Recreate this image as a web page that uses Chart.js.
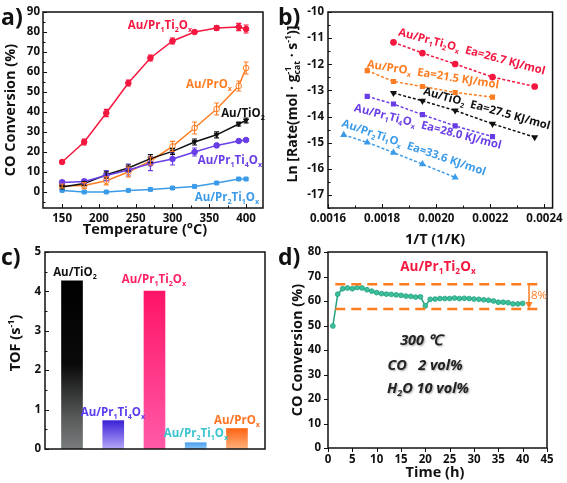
<!DOCTYPE html>
<html>
<head>
<meta charset="utf-8">
<script src="https://cdn.jsdelivr.net/npm/chart.js@4.4.1/dist/chart.umd.min.js"></script>
<style>
  body { margin: 0; background: #fff; }
  #wrap { position: relative; width: 567px; height: 483px; overflow: hidden; background: #fff; }
  #wrap canvas { position: absolute; left: 0; top: 0; }
</style>
</head>
<body>
<div id="wrap">
  <canvas id="chartA" width="567" height="483"></canvas>
  <canvas id="chartB" width="567" height="483"></canvas>
  <canvas id="chartC" width="567" height="483"></canvas>
  <canvas id="chartD" width="567" height="483"></canvas>
</div>
<script>
// ---- a) CO conversion vs temperature ----
const tempC = [150, 180, 210, 240, 270, 300, 330, 360, 390, 400];
const convPr1Ti2 = [15, 25, 39.5, 54.5, 67, 75.5, 80, 82, 82.5, 81.5];
const errPr1Ti2 = [0.6, 1.5, 1.8, 1.5, 1.5, 1.5, 0.8, 1.2, 1.8, 2];
const convPrOx = [3, 3.2, 5.6, 10, 15.5, 22.8, 32, 41.5, 53, 62];
const errPrOx = [1, 1.5, 2, 2.5, 2, 2.5, 3, 3, 2.5, 3];
const convTiO2 = [2.5, 4.2, 8.6, 12, 16.7, 20.3, 25, 28.6, 34, 35.8];
const errTiO2 = [1, 1, 1.5, 1.5, 2, 1.5, 1.5, 1.5, 1, 1.2];
const convPr1Ti4 = [4.8, 5.3, 8.2, 11, 14.2, 16.5, 20, 23.3, 25.5, 26];
const errPr1Ti4 = [1, 1, 2.5, 3, 3.5, 3, 2, 0.8, 0.6, 0.6];
const convPr2Ti1 = [0.8, 0, 0, 0.8, 1.3, 2, 2.8, 4.5, 6.5, 6.5];
const errPr2Ti1 = [0.4, 0.4, 0.4, 0.4, 0.4, 0.4, 0.4, 0.5, 0.6, 0.6];

// ---- b) Arrhenius plot ----
const invT_a = [0.001842, 0.001949, 0.00207, 0.002208, 0.002364];
const invT_b = [0.001745, 0.001842, 0.001949, 0.00207, 0.002208];
const invT_c = [0.001658, 0.001745, 0.001842, 0.001949, 0.00207];
const lnPr1Ti2 = [-11.16, -11.57, -11.99, -12.49, -12.85];
const lnPrOx = [-12.24, -12.66, -12.85, -13.08, -13.26];
const lnTiO2 = [-13.1, -13.4, -13.77, -14.28, -14.79];
const lnPr1Ti4 = [-13.23, -13.52, -13.93, -14.36, -14.77];
const lnPr2Ti1 = [-14.7, -14.99, -15.38, -15.82, -16.33];
const eaLabels = ['Ea=26.7 KJ/mol', 'Ea=21.5 KJ/mol', 'Ea=27.5 KJ/mol', 'Ea=28.0 KJ/mol', 'Ea=33.6 KJ/mol'];

// ---- c) TOF ----
const tofNames = ['Au/TiO_2', 'Au/Pr_1Ti_4O_x', 'Au/Pr_1Ti_2O_x', 'Au/Pr_2Ti_1O_x', 'Au/PrO_x'];
const tofPos = [1, 2, 3, 4, 5];
const tofVals = [4.27, 0.72, 4.01, 0.16, 0.52];

// ---- d) stability test ----
const timeH = [1, 2, 3, 4, 5, 6, 7, 8, 9, 10, 11, 12, 13, 14, 15, 16, 17, 18, 19, 20,
  21, 22, 23, 24, 25, 26, 27, 28, 29, 30, 31, 32, 33, 34, 35, 36, 37, 38, 39, 40];
const convTime = [49.8, 62.8, 65, 65.3, 65, 65.5, 65.3, 64.6, 64, 63.4, 63, 62.8, 62.7, 62.5, 62.3,
  62, 61.9, 61.6, 61.7, 58, 60.7, 60.8, 61, 61, 61, 61.2, 61, 61.1, 61, 60.8,
  60.7, 60.5, 60.3, 60, 59.5, 59.5, 59.3, 58.8, 58.8, 59];
const bandHigh = 66.8;
const bandLow = 56.7;
const bandFrom = 1.5;
const bandTo = 43;
const bandArrowX = 41.3;

const FAM = "'Open Sans', sans-serif";
Chart.defaults.font.family = FAM;
Chart.defaults.font.weight = 'bold';
Chart.defaults.font.size = 11.5;
Chart.defaults.color = '#111';

// text with _sub and ^sup pieces
function parseRich(str) {
  const out = [];
  let i = 0;
  while (i < str.length) {
    const c = str[i];
    if (c === '_' || c === '^') {
      let t;
      if (str[i + 1] === '{') { const j = str.indexOf('}', i); t = str.slice(i + 2, j); i = j + 1; }
      else { t = str[i + 1]; i += 2; }
      out.push({ t, k: c });
    } else {
      const last = out[out.length - 1];
      if (last && last.k === '') last.t += c; else out.push({ t: c, k: '' });
      i++;
    }
  }
  return out;
}

function richText(ctx, str, x, y, o) {
  const size = o.size || 12;
  const font = s => [o.style || '', o.weight || 'bold', s + 'px', FAM].join(' ').trim();
  const parts = parseRich(str);
  const small = size * 0.62;
  let cx = 0;
  parts.forEach((p, i) => {
    ctx.font = font(p.k ? small : size);
    p.w = ctx.measureText(p.t).width;
    const prev = parts[i - 1];
    if (p.k === '^' && prev && prev.k === '_') { p.x = prev.x; cx = Math.max(cx, p.x + p.w); }
    else { p.x = cx; cx += p.w; }
  });
  const w = cx;
  ctx.save();
  ctx.translate(x, y);
  if (o.rot) ctx.rotate(o.rot);
  if (o.shadow) { ctx.shadowColor = o.shadow; ctx.shadowBlur = 2; ctx.shadowOffsetX = 1; ctx.shadowOffsetY = 1; }
  ctx.fillStyle = o.color || '#111';
  ctx.textBaseline = 'alphabetic';
  ctx.textAlign = 'left';
  const x0 = o.align === 'left' ? 0 : o.align === 'right' ? -w : -w / 2;
  const base = size * 0.36;
  parts.forEach(p => {
    ctx.font = font(p.k ? small : size);
    const dy = p.k === '_' ? size * 0.22 : p.k === '^' ? -size * 0.45 : 0;
    ctx.fillText(p.t, x0 + p.x, base + dy);
  });
  ctx.restore();
}

function range(a, b, step) {
  const r = [];
  for (let v = a; v <= b + step * 1e-6; v += step) r.push(+v.toFixed(6));
  return r;
}

// padding that puts the plot box at L,T,R,B on the 567x483 canvas
function areaPad(L, T, R, B) {
  return { left: L - 40, top: T, right: 567 - R, bottom: 483 - B - 20 };
}

function axis(pos, min, max, vals, pad, fmt) {
  return {
    type: 'linear', position: pos, min, max,
    grid: { display: false, drawTicks: false },
    border: { display: false },
    afterBuildTicks: s => { s.ticks = vals.map(v => ({ value: v })); },
    afterFit: s => { if (pos === 'left') s.width = 40; else s.height = 20; },
    ticks: {
      display: vals.length > 0, padding: pad, autoSkip: false, maxRotation: 0,
      callback: fmt || (v => String(v))
    }
  };
}

// box frame with inward (or outward) ticks
function frame(opt) {
  return {
    id: 'frame',
    afterDatasetsDraw(chart) {
      const { ctx, chartArea: a, scales: { x, y } } = chart;
      const dir = opt.out ? 1 : -1;
      ctx.save();
      ctx.strokeStyle = '#111';
      ctx.lineWidth = 1;
      (opt.xt || []).forEach(([v, len]) => {
        const p = Math.round(x.getPixelForValue(v)) + 0.5;
        ctx.beginPath(); ctx.moveTo(p, a.bottom); ctx.lineTo(p, a.bottom + dir * len); ctx.stroke();
      });
      (opt.yt || []).forEach(([v, len]) => {
        const p = Math.round(y.getPixelForValue(v)) + 0.5;
        ctx.beginPath(); ctx.moveTo(a.left, p); ctx.lineTo(a.left - dir * len, p); ctx.stroke();
      });
      ctx.lineWidth = 1.5;
      ctx.strokeRect(a.left, a.top, a.right - a.left, a.bottom - a.top);
      ctx.restore();
    }
  };
}

function tickList(major, minor) {
  return major.map(v => [v, 4]).concat(minor.map(v => [v, 2.5]));
}

function texts(id, list) {
  return {
    id,
    afterDraw(chart) {
      list.forEach(t => richText(chart.ctx, t.s, t.x, t.y, t));
    }
  };
}

const errorBars = {
  id: 'errorBars',
  afterDatasetsDraw(chart) {
    const { ctx } = chart;
    const ys = chart.scales.y;
    chart.data.datasets.forEach((ds, i) => {
      if (!ds.errors) return;
      const meta = chart.getDatasetMeta(i);
      ctx.save();
      ctx.strokeStyle = ds.borderColor;
      ctx.lineWidth = 1.2;
      meta.data.forEach((pt, j) => {
        const v = ds.data[j].y, e = ds.errors[j];
        const t = ys.getPixelForValue(v + e), b = ys.getPixelForValue(v - e);
        ctx.beginPath();
        ctx.moveTo(pt.x, t); ctx.lineTo(pt.x, b);
        ctx.moveTo(pt.x - 2.5, t); ctx.lineTo(pt.x + 2.5, t);
        ctx.moveTo(pt.x - 2.5, b); ctx.lineTo(pt.x + 2.5, b);
        ctx.stroke();
      });
      ctx.restore();
    });
  }
};

// ---------- chart a ----------
const RED = '#f4173f', ORANGE = '#ff7d22', BLACK = '#111111', PURPLE = '#6a3ee6', BLUE = '#3b9be8';

function seriesA(vals, errs, color, shape, extra) {
  return Object.assign({
    data: tempC.map((t, i) => ({ x: t, y: vals[i] })),
    errors: errs, showLine: true, borderColor: color, borderWidth: 1.5,
    pointStyle: shape, pointRadius: 2.8, pointBorderWidth: 1,
    pointBackgroundColor: color, pointBorderColor: color
  }, extra || {});
}

new Chart(document.getElementById('chartA'), {
  type: 'scatter',
  data: {
    datasets: [
      seriesA(convPr2Ti1, errPr2Ti1, BLUE, 'rect'),
      seriesA(convPr1Ti4, errPr1Ti4, PURPLE, 'circle'),
      seriesA(convTiO2, errTiO2, BLACK, 'triangle', { pointRotation: 180 }),
      seriesA(convPrOx, errPrOx, ORANGE, 'circle', { pointBackgroundColor: '#fff' }),
      seriesA(convPr1Ti2, errPr1Ti2, RED, 'circle')
    ]
  },
  options: {
    responsive: false, animation: false,
    layout: { padding: areaPad(43, 12, 263, 208) },
    plugins: { legend: { display: false }, tooltip: { enabled: false } },
    scales: {
      x: axis('bottom', 124, 423, range(150, 400, 50), 4),
      y: axis('left', -8, 90, range(0, 90, 10), 3)
    }
  },
  plugins: [
    errorBars,
    frame({ xt: tickList(range(150, 400, 50), range(175, 375, 50)), yt: tickList(range(0, 90, 10), range(-5, 85, 10)) }),
    texts('txtA', [
      { s: 'a)', x: 1, y: 17, size: 23, align: 'left' },
      { s: 'CO Conversion (%)', x: 10, y: 110, size: 14.5, rot: -Math.PI / 2 },
      { s: 'Temperature (°C)', x: 145, y: 229, size: 14.5 },
      { s: 'Au/Pr_1Ti_2O_x', x: 160, y: 25, size: 11.5, color: RED },
      { s: 'Au/PrO_x', x: 209, y: 84, size: 11.5, color: ORANGE },
      { s: 'Au/TiO_2', x: 243, y: 113, size: 11.5, color: BLACK },
      { s: 'Au/Pr_1Ti_4O_x', x: 230, y: 160, size: 11.5, color: PURPLE },
      { s: 'Au/Pr_2Ti_1O_x', x: 227, y: 197, size: 11.5, color: BLUE }
    ])
  ]
});

// ---------- chart b ----------
function seriesB(xs, vals, color, shape, extra) {
  return Object.assign({
    data: xs.map((v, i) => ({ x: v, y: vals[i] })),
    showLine: true, borderColor: color, borderWidth: 1.5, borderDash: [3, 2],
    pointStyle: shape, pointRadius: 2.6, pointBackgroundColor: color, pointBorderColor: color
  }, extra || {});
}
const deg = Math.PI / 180;

new Chart(document.getElementById('chartB'), {
  type: 'scatter',
  data: {
    datasets: [
      seriesB(invT_a, lnPr1Ti2, RED, 'circle'),
      seriesB(invT_b, lnPrOx, ORANGE, 'rect'),
      seriesB(invT_a, lnTiO2, BLACK, 'triangle', { pointRotation: 180 }),
      seriesB(invT_b, lnPr1Ti4, PURPLE, 'rect'),
      seriesB(invT_c, lnPr2Ti1, BLUE, 'triangle')
    ]
  },
  options: {
    responsive: false, animation: false,
    layout: { padding: areaPad(328, 12, 554, 208) },
    plugins: { legend: { display: false }, tooltip: { enabled: false } },
    scales: {
      x: axis('bottom', 0.0016, 0.00243, range(0.0016, 0.0024, 0.0002), 4, v => v.toFixed(4)),
      y: axis('left', -17.5, -10, range(-17, -10, 1), 4)
    }
  },
  plugins: [
    frame({ xt: tickList(range(0.0016, 0.0024, 0.0002), range(0.0017, 0.0023, 0.0002)), yt: tickList(range(-17, -10, 1), range(-17.5, -10.5, 1)) }),
    texts('txtB', [
      { s: 'b)', x: 278, y: 17, size: 23, align: 'left' },
      { s: 'Ln [Rate(mol · g_{cat}^{-1} · s^{-1})]', x: 292, y: 104, size: 14, rot: -Math.PI / 2 },
      { s: '1/T (1/K)', x: 435, y: 239, size: 14.5 },
      { s: 'Au/Pr_1Ti_2O_x  ' + eaLabels[0], x: 472, y: 51, size: 11.3, color: RED, rot: 15 * deg },
      { s: 'Au/PrO_x  ' + eaLabels[1], x: 433, y: 74, size: 11.3, color: ORANGE, rot: 9 * deg },
      { s: 'Au/TiO_2  ' + eaLabels[2], x: 487, y: 108, size: 11.3, color: BLACK, rot: 15.5 * deg },
      { s: 'Au/Pr_1Ti_4O_x  ' + eaLabels[3], x: 428, y: 126, size: 11.3, color: PURPLE, rot: 14.5 * deg },
      { s: 'Au/Pr_2Ti_1O_x  ' + eaLabels[4], x: 414, y: 147, size: 11.3, color: BLUE, rot: 19 * deg }
    ])
  ]
});

// ---------- chart c ----------
const tofGrad = [
  [[0, '#000000'], [0.5, '#0a0a0a'], [0.8, '#555757'], [1, '#7a7d7d']],
  [[0, '#3a22d6'], [1, '#b7a8f8']],
  [[0, '#ff1466'], [1, '#ff5aa8']],
  [[0, '#4a9ff0'], [1, '#8cc7f6']],
  [[0, '#ff6414'], [1, '#ffb27c']]
];
const tofColors = ['#111111', '#5b3cf0', '#ff1f63', '#38c3cf', '#ff7322'];

function tofFill(c) {
  const chart = c.chart, ys = chart.scales.y;
  if (!ys || !chart.chartArea) return tofGrad[c.dataIndex][0][1];
  const top = ys.getPixelForValue(tofVals[c.dataIndex]), bot = ys.getPixelForValue(0);
  const g = chart.ctx.createLinearGradient(0, top, 0, bot);
  tofGrad[c.dataIndex].forEach(([s, col]) => g.addColorStop(s, col));
  return g;
}

new Chart(document.getElementById('chartC'), {
  type: 'bar',
  data: {
    datasets: [{
      data: tofPos.map((p, i) => ({ x: p, y: tofVals[i] })),
      backgroundColor: tofFill, barThickness: 21, borderWidth: 0
    }]
  },
  options: {
    responsive: false, animation: false,
    layout: { padding: areaPad(45, 252, 265, 449) },
    plugins: { legend: { display: false }, tooltip: { enabled: false } },
    scales: {
      x: axis('bottom', 0.345, 5.68, [], 4),
      y: axis('left', 0, 5, range(0, 5, 1), 4)
    }
  },
  plugins: [
    frame({ xt: [], yt: tickList(range(0, 5, 1), range(0.5, 4.5, 1)) }),
    texts('txtC', [
      { s: 'c)', x: 1, y: 257, size: 23, align: 'left' },
      { s: 'TOF (s^{-1})', x: 15, y: 343, size: 14.5, rot: -Math.PI / 2 },
      { s: tofNames[0], x: 75, y: 272, size: 11.5, color: tofColors[0] },
      { s: tofNames[1], x: 113, y: 412, size: 11.5, color: tofColors[1] },
      { s: tofNames[2], x: 154, y: 279, size: 11.5, color: tofColors[2] },
      { s: tofNames[3], x: 196, y: 433, size: 11.5, color: tofColors[3] },
      { s: tofNames[4], x: 237, y: 420, size: 11.5, color: tofColors[4] }
    ])
  ]
});

// ---------- chart d ----------
const TEAL = '#22a07e';
const bandArrow = {
  id: 'bandArrow',
  afterDatasetsDraw(chart) {
    const { ctx, scales: { x, y } } = chart;
    const ax = x.getPixelForValue(bandArrowX);
    const y1 = y.getPixelForValue(bandHigh), y2 = y.getPixelForValue(bandLow);
    ctx.save();
    ctx.strokeStyle = ORANGE; ctx.fillStyle = ORANGE; ctx.lineWidth = 1.5;
    ctx.beginPath(); ctx.moveTo(ax, y1); ctx.lineTo(ax, y2 - 5); ctx.stroke();
    ctx.beginPath(); ctx.moveTo(ax - 3.5, y2 - 7); ctx.lineTo(ax + 3.5, y2 - 7); ctx.lineTo(ax, y2); ctx.closePath(); ctx.fill();
    ctx.restore();
  }
};

function bandLine(v) {
  return {
    data: [{ x: bandFrom, y: v }, { x: bandTo, y: v }],
    showLine: true, borderColor: ORANGE, borderWidth: 2.5, borderDash: [10, 6], pointRadius: 0
  };
}

new Chart(document.getElementById('chartD'), {
  type: 'scatter',
  data: {
    datasets: [
      bandLine(bandHigh),
      bandLine(bandLow),
      {
        data: timeH.map((t, i) => ({ x: t, y: convTime[i] })),
        showLine: true, borderColor: TEAL, borderWidth: 1.5,
        pointRadius: 2.4, pointBackgroundColor: '#3cc09c', pointBorderColor: TEAL, pointBorderWidth: 0.8
      }
    ]
  },
  options: {
    responsive: false, animation: false,
    layout: { padding: areaPad(328, 252, 547, 448) },
    plugins: { legend: { display: false }, tooltip: { enabled: false } },
    scales: {
      x: axis('bottom', 0, 45, range(0, 45, 5), 5),
      y: axis('left', 0, 80, range(0, 80, 10), 7)
    }
  },
  plugins: [
    bandArrow,
    frame({ out: true, xt: tickList(range(0, 45, 5), []), yt: tickList(range(0, 80, 10), []) }),
    texts('txtD', [
      { s: 'd)', x: 278, y: 257, size: 23, align: 'left' },
      { s: 'CO Conversion (%)', x: 297, y: 350, size: 14.5, rot: -Math.PI / 2 },
      { s: 'Time (h)', x: 435, y: 472, size: 14.5 },
      { s: 'Au/Pr_1Ti_2O_x', x: 438, y: 266, size: 13.5, color: RED },
      { s: '8%', x: 539, y: 295, size: 11.5, color: ORANGE, weight: 'normal' },
      { s: '300 ℃', x: 421, y: 340, size: 14.5, style: 'italic', color: '#222', shadow: 'rgba(0,0,0,0.35)' },
      { s: 'CO   2 vol%', x: 425, y: 365, size: 14.5, style: 'italic', color: '#222', shadow: 'rgba(0,0,0,0.35)' },
      { s: 'H_2O 10 vol%', x: 428, y: 388, size: 14.5, style: 'italic', color: '#222', shadow: 'rgba(0,0,0,0.35)' }
    ])
  ]
});
</script>
</body>
</html>
